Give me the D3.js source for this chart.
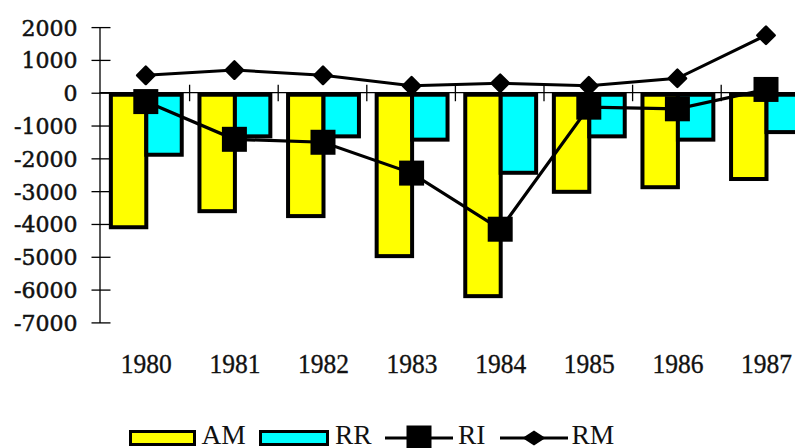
<!DOCTYPE html>
<html>
<head>
<meta charset="utf-8">
<script src="https://cdn.jsdelivr.net/npm/d3@7"></script>
<style>
  html, body { margin: 0; padding: 0; background: #fff; }
  svg { display: block; }
</style>
</head>
<body>
<svg id="chart" width="795" height="448"></svg>
<script>
// Yearly series (1980–1987)
const years = ["1980", "1981", "1982", "1983", "1984", "1985", "1986", "1987"];
const amValues = [-4100, -3610, -3760, -4980, -6200, -3020, -2880, -2630];
const rrValues = [-1890, -1330, -1330, -1430, -2440, -1330, -1430, -1200];
const riValues = [-270, -1420, -1510, -2450, -4160, -440, -490, 100];
const rmValues = [530, 690, 530, 210, 290, 210, 440, 1750];
const yTicks = [2000, 1000, 0, -1000, -2000, -3000, -4000, -5000, -6000, -7000];
const barSeries = ["AM", "RR"];
const barColors = { AM: "#ffff00", RR: "#00ffff" };

const svg = d3.select("#chart");
const W = 795;

const y = d3.scaleLinear().domain([-7000, 2000]).range([322.4, 27.1]);
const x0 = d3.scaleBand().domain(years).range([101, 809.8]).padding(0);
const bw = x0.bandwidth();
const x1 = d3.scaleBand().domain(barSeries).range([bw * 0.1 + 1, bw * 0.9 + 1]).padding(0);
const cx = d => x0(d) + bw / 2 + 0.5;

const serif = "'Liberation Serif', 'Times New Roman', serif";

// Value axis
const yAxis = svg.append("g")
  .attr("transform", "translate(99.5,0)")
  .call(d3.axisLeft(y).tickValues(yTicks).tickSizeOuter(0).tickSizeInner(8)
    .tickFormat(d => d < 0 ? "-" + Math.abs(d) : String(d)));
yAxis.select(".domain").attr("stroke", "#000").attr("stroke-width", 1.3);
yAxis.selectAll(".tick line").attr("x1", -8).attr("x2", 11).attr("stroke", "#000").attr("stroke-width", 1.3);
yAxis.selectAll(".tick text")
  .attr("x", -22)
  .attr("dy", "0.36em")
  .attr("fill", "#111")
  .attr("stroke", "#111")
  .attr("stroke-width", 0.5)
  .style("font-family", "'DejaVu Serif', serif")
  .style("font-size", "22px");

// Category axis along zero
const zeroY = y(0);
svg.append("line")
  .attr("x1", 99.5).attr("x2", W)
  .attr("y1", zeroY).attr("y2", zeroY)
  .attr("stroke", "#000").attr("stroke-width", 1.3);
svg.append("g").selectAll("line")
  .data(years.slice(1))
  .join("line")
  .attr("x1", d => x0(d)).attr("x2", d => x0(d))
  .attr("y1", zeroY - 8).attr("y2", zeroY + 8.5)
  .attr("stroke", "#000").attr("stroke-width", 1.3);

// Year labels
const xLabels = svg.append("g")
  .attr("transform", "translate(1,353)")
  .call(d3.axisBottom(x0).tickSize(0).tickPadding(0));
xLabels.select(".domain").remove();
xLabels.selectAll(".tick text")
  .attr("fill", "#111")
  .attr("stroke", "#111")
  .attr("stroke-width", 0.35)
  .attr("textLength", 51)
  .attr("lengthAdjust", "spacingAndGlyphs")
  .style("font-family", serif)
  .style("font-size", "28px");

// Bars
const rows = years.map((yr, i) => ({ year: yr, AM: amValues[i], RR: rrValues[i] }));
svg.append("g")
  .selectAll("g")
  .data(rows)
  .join("g")
  .attr("transform", d => `translate(${x0(d.year)},0)`)
  .selectAll("rect")
  .data(d => barSeries.map(k => ({ key: k, value: d[k] })))
  .join("rect")
  .attr("x", d => x1(d.key))
  .attr("width", x1.bandwidth())
  .attr("y", d => Math.min(y(0) + 2, y(d.value)))
  .attr("height", d => Math.abs(y(d.value) - (y(0) + 2)))
  .attr("fill", d => barColors[d.key])
  .attr("stroke", "#000")
  .attr("stroke-width", 4);

// RM line with diamonds
const rmLine = d3.line().x((d, i) => cx(years[i])).y(d => y(d));
svg.append("path")
  .datum(rmValues)
  .attr("d", rmLine)
  .attr("fill", "none")
  .attr("stroke", "#000")
  .attr("stroke-width", 3);
const diamond = d3.symbol(d3.symbolSquare, 150)();
svg.append("g").selectAll("path")
  .data(rmValues)
  .join("path")
  .attr("d", diamond)
  .attr("transform", (d, i) => `translate(${cx(years[i])},${y(d)}) rotate(45)`)
  .attr("fill", "#000")
  .attr("stroke", "#000")
  .attr("stroke-width", 2.5)
  .attr("stroke-linejoin", "round");

// RI line with squares
const riLine = d3.line().x((d, i) => cx(years[i])).y(d => y(d));
svg.append("path")
  .datum(riValues)
  .attr("d", riLine)
  .attr("fill", "none")
  .attr("stroke", "#000")
  .attr("stroke-width", 3.2);
const square = d3.symbol(d3.symbolSquare, 25 * 25)();
svg.append("g").selectAll("path")
  .data(riValues)
  .join("path")
  .attr("d", square)
  .attr("transform", (d, i) => `translate(${cx(years[i])},${y(d)})`)
  .attr("fill", "#000");

// Legend: each entry has a key glyph start and a label start
const legend = svg.append("g").attr("transform", "translate(0,438)");
const legendItems = [
  { name: "AM", type: "bar", x: 130.5, w: 64, tx: 201.5 },
  { name: "RR", type: "bar", x: 260.5, w: 67, tx: 335 },
  { name: "RI", type: "square", x: 385, w: 68, tx: 458 },
  { name: "RM", type: "diamond", x: 500, w: 68, tx: 571.5 }
];
legendItems.forEach(item => {
  const g = legend.append("g");
  if (item.type === "bar") {
    g.append("rect")
      .attr("x", item.x).attr("y", -6.5)
      .attr("width", item.w).attr("height", 13)
      .attr("fill", barColors[item.name])
      .attr("stroke", "#000")
      .attr("stroke-width", 3);
  } else {
    g.append("line")
      .attr("x1", item.x).attr("x2", item.x + item.w)
      .attr("y1", 0).attr("y2", 0)
      .attr("stroke", "#000").attr("stroke-width", 3);
    if (item.type === "square") {
      g.append("path").attr("d", square)
        .attr("transform", `translate(${item.x + item.w / 2},0)`)
        .attr("fill", "#000");
    } else {
      g.append("path").attr("d", d3.symbol(d3.symbolSquare, 170)())
        .attr("transform", `translate(${item.x + item.w / 2},0) scale(1.25,0.8) rotate(45)`)
        .attr("fill", "#000");
    }
  }
  g.append("text")
    .attr("x", item.tx)
    .attr("y", 5.5)
    .attr("fill", "#111")
    .style("font-family", serif)
    .style("font-size", "27.5px")
    .text(item.name);
});
</script>
</body>
</html>
